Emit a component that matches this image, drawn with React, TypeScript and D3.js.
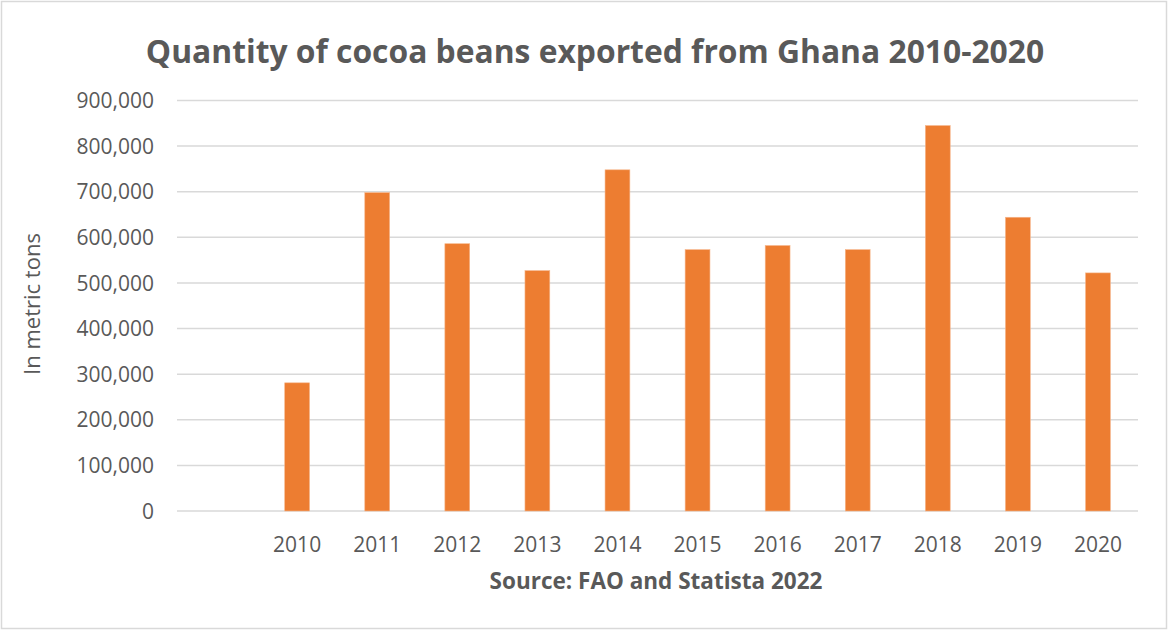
import React from "react";
import * as d3 from "d3";

const categories = ["", "2010", "2011", "2012", "2013", "2014", "2015", "2016", "2017", "2018", "2019", "2020"];
const values: (number | null)[] = [null, 281000, 698000, 586000, 527000, 748000, 573000, 582000, 573000, 845000, 644000, 522000];
const yTicks = [0, 100000, 200000, 300000, 400000, 500000, 600000, 700000, 800000, 900000];

const W = 1168, H = 630;
const M = { left: 177, right: 1138, top: 100.5, bottom: 511 };
const FONT = "'Open Sans', 'Liberation Sans', sans-serif";
const TXT = "#595959";

export default function App() {
  const x = d3.scaleBand<string>().domain(categories.map((c, i) => i + ":" + c)).range([M.left, M.right]).paddingInner(0).paddingOuter(0);
  const y = d3.scaleLinear().domain([0, 900000]).range([M.bottom, M.top]);
  const bw = x.bandwidth() * 0.31;
  const fmt = d3.format(",");
  return (
    <svg width={W} height={H} style={{ position: "absolute", left: 0, top: 0 }} fontFamily={FONT}>
      <rect x={0} y={0} width={W} height={H} fill="#fff" />
      <rect x={1.5} y={1.5} width={W - 3} height={H - 3} fill="none" stroke="#d9d9d9" strokeWidth={1.5} />
      <text x={595} y={63} textAnchor="middle" fontSize={31.8} fontWeight={700} fill={TXT}>
        Quantity of cocoa beans exported from Ghana 2010-2020
      </text>
      {yTicks.map((t) => (
        <g key={t}>
          <line x1={M.left} x2={M.right} y1={y(t)} y2={y(t)} stroke="#d9d9d9" strokeWidth={1.5} />
          <text x={154} y={y(t)} dy="0.36em" textAnchor="end" fontSize={21} fill={TXT}>
            {fmt(t)}
          </text>
        </g>
      ))}
      {categories.map((c, i) => {
        const key = i + ":" + c;
        const v = values[i];
        const cx = (x(key) as number) + x.bandwidth() / 2;
        return (
          <g key={key}>
            {v != null && (
              <rect x={cx - bw / 2} y={y(v)} width={bw} height={y(0) - y(v)} fill="#ED7D31" stroke="#f6b58a" strokeWidth={0.6} />
            )}
            <text x={cx} y={552} textAnchor="middle" fontSize={21} fill={TXT}>
              {c}
            </text>
          </g>
        );
      })}
      <text x={656} y={589} textAnchor="middle" fontSize={22.5} fontWeight={700} fill={TXT}>
        Source: FAO and Statista 2022
      </text>
      <text transform={`translate(40,304) rotate(-90)`} textAnchor="middle" fontSize={22} fill={TXT}>
        In metric tons
      </text>
    </svg>
  );
}
